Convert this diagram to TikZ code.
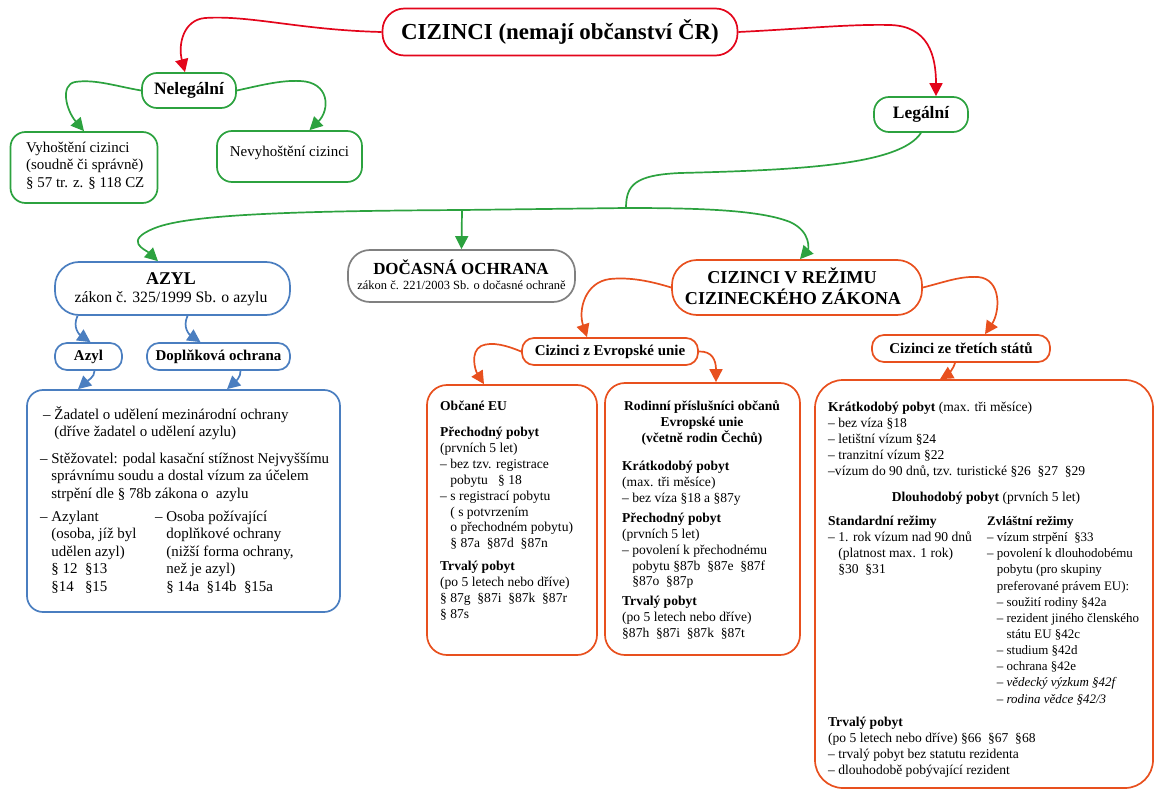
\documentclass[tikz,border=0pt]{standalone}
\usepackage{fontspec}
\setmainfont{Liberation Serif}
\usetikzlibrary{arrows.meta}
\definecolor{cred}{HTML}{E3051B}
\definecolor{cgreen}{HTML}{2CA23F}
\definecolor{cblue}{HTML}{4A7EC0}
\definecolor{corange}{HTML}{E8501E}
\definecolor{cgray}{HTML}{808080}
\newcommand{\myind}{\hphantom{–\ }}
\begin{document}
\begin{tikzpicture}[x=1bp,y=-1bp,
 bx/.style={draw, line width=1.7bp, fill=white, inner sep=0pt, align=center},
 arr/.style={line width=1.7bp, -{Triangle[length=13bp,width=13bp]}},
 ln/.style={line width=1.7bp},
 rt/.style={anchor=north west, inner sep=0pt, align=left, font=\fontsize{13.6}{16}\selectfont},
 lt/.style={anchor=north west, inner sep=0pt, align=left, font=\fontsize{15}{17.5}\selectfont},
 bt/.style={anchor=base, inner sep=0pt},
]
\useasboundingbox (0,0) rectangle (1155,790);

% ---------- top level ----------
\node[bx, draw=cred, rounded corners=22bp, minimum width=355bp, minimum height=47bp, font=\fontsize{23}{26}\selectfont\bfseries] (cz) at (560,32) {CIZINCI (nemají občanství ČR)};
\node[bx, draw=cgreen, rounded corners=15bp, minimum width=94bp, minimum height=35bp, font=\fontsize{17.5}{20}\selectfont\bfseries] (nel) at (189,90.5) {Nelegální};
\node[bx, draw=cgreen, rounded corners=15bp, minimum width=94bp, minimum height=35bp, font=\fontsize{17.5}{20}\selectfont\bfseries] (leg) at (921,114.5) {Legální};
\node[bx, draw=cgreen, rounded corners=15bp, minimum width=147bp, minimum height=71bp] (vyh) at (84,167.5) {};
\node[lt] (vyht) at (26,140) {\strut Vyhoštění cizinci\\(soudně či správně)\\§ 57 tr. z. § 118 CZ};
\node[bx, draw=cgreen, rounded corners=15bp, minimum width=145bp, minimum height=51bp] (nevy) at (289.5,156.5) {};
\node[bt, font=\fontsize{15}{17.5}\selectfont] (nevyt) at (289.5,156) {Nevyhoštění cizinci};

% ---------- second level ----------
\node[bx, draw=cblue, rounded corners=24bp, minimum width=235bp, minimum height=53bp] (azyl) at (172.5,288.5) {};
\node[bt, font=\fontsize{18}{20}\selectfont\bfseries] (azylt) at (171,284) {AZYL};
\node[bt, font=\fontsize{15.8}{19}\selectfont] (azyls) at (171,302) {zákon č. 325/1999 Sb. o azylu};

\node[bx, draw=cgray, rounded corners=22bp, minimum width=227bp, minimum height=52bp] (doc) at (461.5,276) {};
\node[bt, font=\fontsize{17}{20}\selectfont\bfseries] (doct) at (461,274) {DOČASNÁ OCHRANA};
\node[bt, font=\fontsize{12.5}{15}\selectfont] (docs) at (461.5,289) {zákon č. 221/2003 Sb. o dočasné ochraně};

\node[bx, draw=corange, rounded corners=25bp, minimum width=250bp, minimum height=55bp] (czr) at (797,287.5) {};
\node[bt, font=\fontsize{18.2}{21}\selectfont\bfseries] (czrt1) at (792,283) {CIZINCI V REŽIMU};
\node[bt, font=\fontsize{18.2}{21}\selectfont\bfseries] (czrt2) at (793,304) {CIZINECKÉHO ZÁKONA};

% ---------- azyl branch ----------
\node[bx, draw=cblue, rounded corners=12bp, minimum width=67bp, minimum height=27bp, font=\fontsize{15}{17}\selectfont\bfseries] (az) at (88.5,356.5) {Azyl};
\node[bx, draw=cblue, rounded corners=12bp, minimum width=143bp, minimum height=27bp, font=\fontsize{15}{17}\selectfont\bfseries] (dop) at (218.5,356.5) {Doplňková ochrana};
\node[bx, draw=cblue, rounded corners=16bp, minimum width=313bp, minimum height=222bp] (bb) at (183.5,501) {};
\node[lt] (bb1) at (43,406) {\strut– Žadatel o udělení mezinárodní ochrany\\\myind(dříve žadatel o udělení azylu)};
\node[lt] (bb2) at (40,451) {\strut– Stěžovatel: podal kasační stížnost Nejvyššímu\\\myind správnímu soudu a dostal vízum za účelem\\\myind strpění dle § 78b zákona o\ \ azylu};
\node[lt] (bb3) at (40,509) {\strut– Azylant\\\myind(osoba, jíž byl\\\myind udělen azyl)\\\myind§ 12\ \ §13\\\myind§14\ \ \ §15};
\node[lt] (bb4) at (155,509) {\strut– Osoba požívající\\\myind doplňkové ochrany\\\myind(nižší forma ochrany,\\\myind než je azyl)\\\myind§ 14a\ \ §14b\ \ §15a};

% ---------- cizinecky zakon branch ----------
\node[bx, draw=corange, rounded corners=12bp, minimum width=176bp, minimum height=27bp, font=\fontsize{15}{17}\selectfont\bfseries] (czeu) at (610,351.5) {Cizinci z Evropské unie};
\node[bx, draw=corange, rounded corners=12bp, minimum width=178bp, minimum height=27bp, font=\fontsize{15}{17}\selectfont\bfseries] (tre) at (961,348.5) {Cizinci ze třetích států};

\node[bx, draw=corange, rounded corners=20bp, minimum width=170bp, minimum height=270bp] (obc) at (512,520) {};
\node[rt] (obct) at (440,399) {\strut\textbf{Občané EU}\\[10bp]\textbf{Přechodný pobyt}\\(prvních 5 let)\\– bez tzv. registrace\\\myind pobytu\ \ \ § 18\\– s registrací pobytu\\\myind( s potvrzením\\\myind o přechodném pobytu)\\\myind§ 87a\ \ §87d\ \ §87n\\[7bp]\textbf{Trvalý pobyt}\\(po 5 letech nebo dříve)\\§ 87g\ \ §87i\ \ §87k\ \ §87r\\§ 87s};

\node[bx, draw=corange, rounded corners=20bp, minimum width=195bp, minimum height=272bp] (rod) at (702.5,519) {};
\node[anchor=north, inner sep=0pt, align=center, font=\fontsize{13.6}{16}\selectfont\bfseries] (rodh) at (702,399) {\strut Rodinní příslušníci občanů\\Evropské unie\\(včetně rodin Čechů)};
\node[rt] (rodt) at (622,459) {\strut\textbf{Krátkodobý pobyt}\\(max. tři měsíce)\\– bez víza §18 a §87y\\[4bp]\textbf{Přechodný pobyt}\\(prvních 5 let)\\– povolení k přechodnému\\\myind pobytu §87b\ \ §87e\ \ §87f\\\myind§87o\ \ §87p\\[4bp]\textbf{Trvalý pobyt}\\(po 5 letech nebo dříve)\\§87h\ \ §87i\ \ §87k\ \ §87t};

\node[bx, draw=corange, rounded corners=28bp, minimum width=338bp, minimum height=408bp] (rb) at (984,584) {};
\node[rt] (rb1) at (828,400) {\strut\textbf{Krátkodobý pobyt} (max. tři měsíce)\\– bez víza §18\\– letištní vízum §24\\– tranzitní vízum §22\\–vízum do 90 dnů, tzv. turistické §26\ \ §27\ \ §29};
\node[anchor=north, inner sep=0pt, font=\fontsize{13.6}{16}\selectfont] (rb2) at (986,490) {\strut\textbf{Dlouhodobý pobyt} (prvních 5 let)};
\node[rt] (rb3) at (828,514) {\strut\textbf{Standardní režimy}\\– 1. rok vízum nad 90 dnů\\\myind(platnost max. 1 rok)\\\myind§30\ \ §31};
\node[rt, font=\fontsize{13}{16.2}\selectfont] (rb4) at (987,514) {\strut\textbf{Zvláštní režimy}\\– vízum strpění\ \ §33\\– povolení k dlouhodobému\\\myind pobytu (pro skupiny\\\myind preferované právem EU):\\\myind– soužití rodiny §42a\\\myind– rezident jiného členského\\\myind\myind státu EU §42c\\\myind– studium §42d\\\myind– ochrana §42e\\\myind\textit{– vědecký výzkum §42f}\\\myind\textit{– rodina vědce §42/3}};
\node[rt] (rb5) at (828,715) {\strut\textbf{Trvalý pobyt}\\(po 5 letech nebo dříve) §66\ \ §67\ \ §68\\– trvalý pobyt bez statutu rezidenta\\– dlouhodobě pobývající rezident};

% ---------- connectors ----------
\draw[arr, cred] (cz.west) .. controls (300,30) and (250,15) .. (205,18) .. controls (183,20) and (178,45) .. ([xshift=-4bp]nel.north);
\draw[arr, cred] (cz.east) .. controls (800,29) and (850,24) .. (890,25) .. controls (928,26) and (936,55) .. ([xshift=15bp]leg.north);

\draw[arr, cgreen] (nel.west) .. controls (115,86) and (95,79) .. (75,82) .. controls (60,85) and (66,110) .. (vyh.north);
\draw[arr, cgreen] (nel.east) .. controls (258,86) and (280,80) .. (300,81) .. controls (330,82) and (330,110) .. ([xshift=20bp]nevy.north);

\coordinate (j) at (626,208);
\coordinate (mid) at (462,210);
\draw[ln, cgreen] (leg.south) .. controls (900,165) and (800,170) .. (680,173) .. controls (635,175) and (626,185) .. (j);
\draw[ln, cgreen] (j) -- (mid);
\draw[arr, cgreen] (mid) .. controls (300,211) and (190,214) .. (155,228) .. controls (122,241) and (146,250) .. ([xshift=-14.5bp]azyl.north);
\draw[arr, cgreen] (mid) -- (doc.north);
\draw[arr, cgreen] (j) .. controls (700,208) and (760,210) .. (790,222) .. controls (812,232) and (808,250) .. ([xshift=3bp]czr.north);

\draw[arr, cblue] ([xshift=-95bp]azyl.south) .. controls (72,328) and (80,335) .. ([xshift=2bp]az.north);
\draw[arr, cblue] ([xshift=15bp]azyl.south) .. controls (182,328) and (190,335) .. ([xshift=-18bp]dop.north);
\draw[arr, cblue] ([xshift=6bp]az.south) .. controls (95,377) and (86,382) .. ([xshift=-105.5bp]bb.north);
\draw[arr, cblue] ([xshift=22bp]dop.south) .. controls (241,377) and (235,382) .. ([xshift=43.5bp]bb.north);

\draw[arr, corange] (czr.west) .. controls (650,281) and (630,277) .. (610,279) .. controls (585,282) and (578,310) .. ([xshift=-23bp]czeu.north);
\draw[arr, corange] (czeu.west) .. controls (508,346) and (492,341) .. (481,346) .. controls (470,352) and (475,370) .. ([xshift=-28bp]obc.north);
\draw[arr, corange] (czeu.east) .. controls (712,351) and (716,360) .. ([xshift=13.5bp]rod.north);
\draw[arr, corange] (czr.east) .. controls (945,282) and (960,276) .. (978,277) .. controls (1002,279) and (1000,312) .. ([xshift=24bp]tre.north);
\draw[arr, corange] ([xshift=-6bp]tre.south) .. controls (953,370) and (947,375) .. ([xshift=-44bp]rb.north);
\end{tikzpicture}
\end{document}
